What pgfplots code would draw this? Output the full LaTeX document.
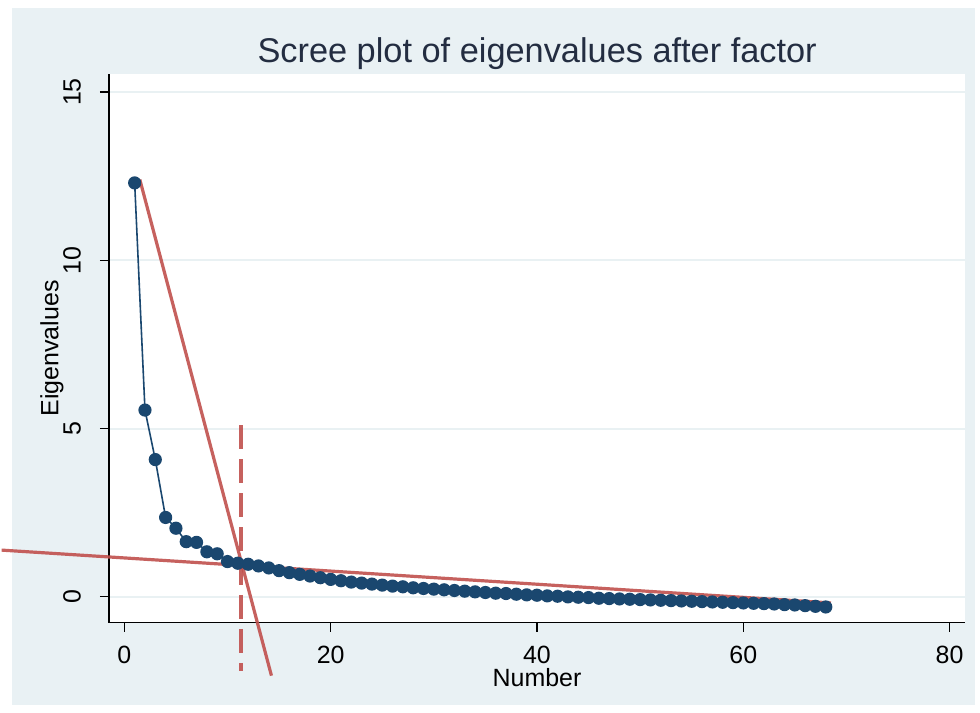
\documentclass[border=0pt]{standalone}
\usepackage{fontspec}
\setmainfont{Liberation Sans}
\usepackage{pgfplots}
\pgfplotsset{compat=1.18}
\definecolor{stbg}{RGB}{233,241,244}
\definecolor{stgrid}{RGB}{233,241,243}
\definecolor{stnavy}{RGB}{26,71,111}
\definecolor{stred}{RGB}{192,80,77}
\definecolor{sttitle}{RGB}{35,45,65}

\begin{document}
\begin{tikzpicture}
% page and graph region (1px = 0.5pt, origin at the axis corner)
\fill[white] (-53.65pt,-45pt) rectangle (436.35pt,312pt);
\fill[stbg] (-48.65pt,-41pt) rectangle (433.85pt,308pt);
\begin{axis}[
    at={(0pt,0pt)}, anchor=south west,
    scale only axis,
    width=428.85pt, height=275pt,
    xmin=-1.49, xmax=81.5,
    ymin=-0.77, ymax=15.54,
    clip=false,
    axis background/.style={fill=white},
    axis x line*=bottom, axis y line*=left,
    axis line style={-, black, line width=0.6pt},
    xtick={0,20,40,60,80},
    ytick={0,5,10,15},
    tick align=outside,
    major tick length=4.5pt,
    tick style={black, line width=0.6pt},
    ymajorgrids,
    major grid style={stgrid, line width=1pt},
    /pgf/number format/assume math mode=true,
    tick label style={font=\fontsize{12.5}{14}\selectfont},
    xticklabel style={yshift=-3.5pt},
    yticklabel style={rotate=90, anchor=south, yshift=6pt},
    xlabel={Number},
    ylabel={Eigenvalues},
    label style={font=\fontsize{12.5}{14}\selectfont},
    xlabel style={yshift=4.5pt},
    ylabel style={yshift=-7pt},
]
\addplot[stnavy, line width=0.8pt, mark=*, mark size=2.9pt,
         mark options={fill=stnavy, draw=stnavy}]
coordinates {
(1,12.30)(2,5.55)(3,4.08)(4,2.36)(5,2.04)(6,1.64)(7,1.62)(8,1.34)(9,1.28)(10,1.05)
(11,1.00)(12,0.97)(13,0.92)(14,0.86)(15,0.78)(16,0.72)(17,0.67)(18,0.62)(19,0.57)(20,0.52)
(21,0.48)(22,0.44)(23,0.41)(24,0.38)(25,0.35)(26,0.32)(27,0.30)(28,0.27)(29,0.25)(30,0.23)
(31,0.21)(32,0.19)(33,0.17)(34,0.15)(35,0.13)(36,0.11)(37,0.10)(38,0.08)(39,0.06)(40,0.05)
(41,0.03)(42,0.02)(43,0.00)(44,-0.01)(45,-0.02)(46,-0.04)(47,-0.05)(48,-0.06)(49,-0.07)(50,-0.08)
(51,-0.09)(52,-0.10)(53,-0.11)(54,-0.12)(55,-0.13)(56,-0.14)(57,-0.15)(58,-0.16)(59,-0.17)(60,-0.18)
(61,-0.19)(62,-0.20)(63,-0.21)(64,-0.23)(65,-0.24)(66,-0.26)(67,-0.28)(68,-0.30)
};
% fitted lines of the scree test
\addplot[stred, line width=1.6pt, opacity=0.9] coordinates {(1.5,12.4)(14.26,-2.34)};
\addplot[stred, line width=1.6pt, opacity=0.9] coordinates {(-11.9,1.39)(68.5,-0.18)};
\addplot[stred, line width=1.6pt, opacity=0.9, dash pattern=on 12pt off 5pt] coordinates {(11.3,5.1)(11.3,-2.2)};
\end{axis}
\node[anchor=base, text=sttitle, font=\fontsize{17.2}{19}\selectfont] at (214.5pt,280.5pt) {Scree plot of eigenvalues after factor};
\end{tikzpicture}
\end{document}
